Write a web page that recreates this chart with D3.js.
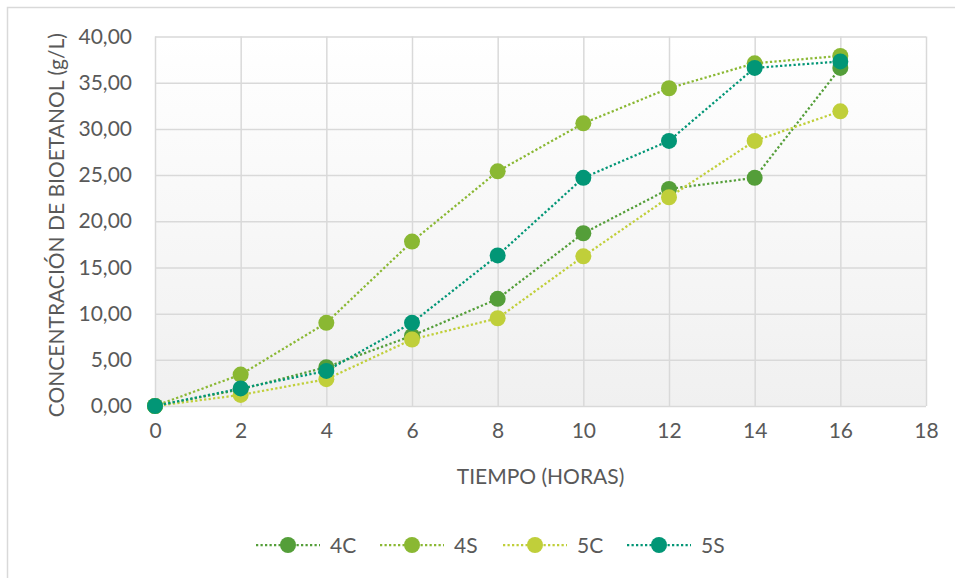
<!DOCTYPE html>
<html>
<head>
<meta charset="utf-8">
<script src="https://cdn.jsdelivr.net/npm/d3@7"></script>
<style>
  html, body { margin: 0; padding: 0; background: #fff; }
  svg { display: block; }
  text { font-family: Lato, "Open Sans", sans-serif; fill: #595959; }
</style>
</head>
<body>
<svg id="chart" width="955" height="578"></svg>
<script>
// Ethanol concentration (g/L) over fermentation time (hours)
const hours = [0, 2, 4, 6, 8, 10, 12, 14, 16];
const s4C = [0, 1.8, 4.2, 7.6, 11.6, 18.7, 23.5, 24.7, 36.6];
const s4S = [0, 3.4, 9.0, 17.8, 25.4, 30.6, 34.4, 37.1, 37.9];
const s5C = [0, 1.2, 2.9, 7.2, 9.5, 16.2, 22.6, 28.7, 31.9];
const s5S = [0, 1.9, 3.8, 9.0, 16.3, 24.7, 28.7, 36.6, 37.3];
const seriesNames = ["4C", "4S", "5C", "5S"];
const seriesColors = ["#549E39", "#8AB833", "#C0CF3A", "#029676"];
const xTicks = [0, 2, 4, 6, 8, 10, 12, 14, 16, 18];
const yTicks = [0, 5, 10, 15, 20, 25, 30, 35, 40];

const series = [s4C, s4S, s5C, s5S].map((vals, i) => ({
  name: seriesNames[i],
  color: seriesColors[i],
  points: vals.map((v, j) => ({ x: hours[j], y: v }))
}));

const FS = 21;
const svg = d3.select("#chart");
const plotLeft = 155, plotRight = 926, plotTop = 36.5, plotBottom = 406;

// chart frame (left and top edges)
svg.append("path")
  .attr("d", "M7.5,578 L7.5,7.5 L955,7.5")
  .attr("fill", "none").attr("stroke", "#d9d9d9").attr("stroke-width", 1.5);

const x = d3.scaleLinear().domain([0, 18]).range([plotLeft, plotRight]);
const y = d3.scaleLinear().domain([0, 40]).range([plotBottom, plotTop]);

// plot area background
const defs = svg.append("defs");
const grad = defs.append("linearGradient").attr("id", "plotBg")
  .attr("x1", 0).attr("y1", 0).attr("x2", 0).attr("y2", 1);
grad.append("stop").attr("offset", "0%").attr("stop-color", "#ffffff");
grad.append("stop").attr("offset", "100%").attr("stop-color", "#f0f0f0");
svg.append("rect")
  .attr("x", plotLeft).attr("y", plotTop)
  .attr("width", plotRight - plotLeft).attr("height", plotBottom - plotTop)
  .attr("fill", "url(#plotBg)");

// gridlines and tick labels
const fmt = v => d3.format(".2f")(v).replace(".", ",");
const gy = svg.append("g").attr("transform", `translate(${plotLeft},0)`)
  .call(d3.axisLeft(y).tickValues(yTicks).tickSize(-(plotRight - plotLeft)).tickFormat(fmt).tickPadding(23));
const gx = svg.append("g").attr("transform", `translate(0,${plotBottom})`)
  .call(d3.axisBottom(x).tickValues(xTicks).tickSize(-(plotBottom - plotTop)).tickPadding(17));
[gx, gy].forEach(g => {
  g.select(".domain").remove();
  g.selectAll(".tick line").attr("stroke", "#d9d9d9").attr("stroke-width", 1.5);
  g.selectAll(".tick text").attr("font-size", FS).attr("fill", "#595959")
    .style("font-family", "Lato, 'Open Sans', sans-serif");
});

// axis titles
svg.append("text")
  .attr("x", (plotLeft + plotRight) / 2).attr("y", 484)
  .attr("text-anchor", "middle").attr("font-size", FS)
  .text("TIEMPO (HORAS)");
svg.append("text")
  .attr("transform", `translate(64,${(plotTop + plotBottom) / 2 + 4}) rotate(-90)`)
  .attr("text-anchor", "middle").attr("font-size", FS)
  .text("CONCENTRACIÓN DE BIOETANOL (g/L)");

// series lines and markers
const line = d3.line().x(d => x(d.x)).y(d => y(d.y));
series.forEach(s => {
  svg.append("path")
    .datum(s.points)
    .attr("d", line)
    .attr("fill", "none")
    .attr("stroke", s.color)
    .attr("stroke-width", 2.25)
    .attr("stroke-dasharray", "2.25 2.25");
});
series.forEach(s => {
  svg.append("g").selectAll("circle")
    .data(s.points).join("circle")
    .attr("cx", d => x(d.x)).attr("cy", d => y(d.y))
    .attr("r", 8).attr("fill", s.color);
});

// legend
const legendX = [256, 380, 503, 627];
const legend = svg.append("g");
series.forEach((s, i) => {
  const lx = legendX[i], ly = 545;
  legend.append("line")
    .attr("x1", lx).attr("x2", lx + 64).attr("y1", ly).attr("y2", ly)
    .attr("stroke", s.color).attr("stroke-width", 2.25)
    .attr("stroke-dasharray", "2.25 2.25");
  legend.append("circle").attr("cx", lx + 32).attr("cy", ly).attr("r", 8).attr("fill", s.color);
  legend.append("text").attr("x", lx + 74).attr("y", ly + 8)
    .attr("font-size", FS).text(s.name);
});
</script>
</body>
</html>
